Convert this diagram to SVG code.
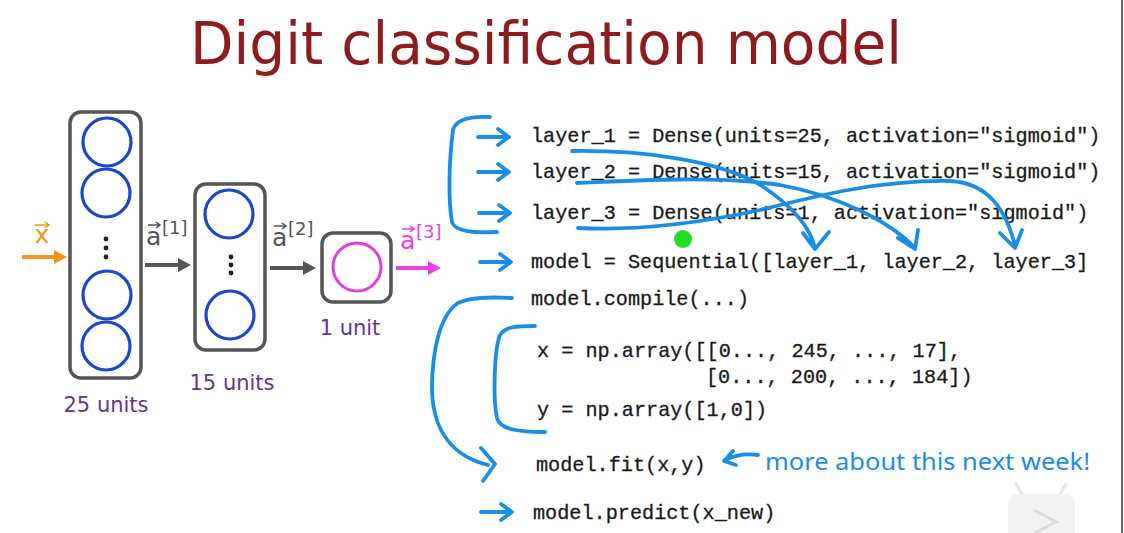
<svg xmlns="http://www.w3.org/2000/svg" width="1124" height="533" viewBox="0 0 1124 533">
<style>
.box{fill:#fff;stroke:#555;stroke-width:3.5}
.neu{fill:none;stroke:#1a48c8;stroke-width:3.2}
.dot{fill:#222}
.lbl{font-family:"DejaVu Sans",Verdana,sans-serif;font-size:21px;fill:#6b3291}
.code{font-family:"Liberation Mono","DejaVu Sans Mono",monospace;font-size:20.2px;fill:#1a1a1a;stroke:#1a1a1a;stroke-width:0.3}
.hand{fill:none;stroke:#1a8ee6;stroke-width:3.8;stroke-linecap:round;stroke-linejoin:round}
.vec{font-family:"DejaVu Sans",Verdana,sans-serif}
</style>
<rect width="1124" height="533" fill="#fff"/>
<line x1="1122" y1="0" x2="1122" y2="533" stroke="#666" stroke-width="2"/>
<text x="190" y="64" font-family="DejaVu Sans,Verdana,sans-serif" font-size="58" fill="#8e1b1e" textLength="712" lengthAdjust="spacingAndGlyphs">Digit classification model</text>

<g id="layer1-node">
<rect class="box" x="70" y="112" width="71" height="266" rx="11"/>
<circle class="neu" cx="107" cy="142" r="24"/>
<circle class="neu" cx="106" cy="193" r="24"/>
<circle class="dot" cx="106" cy="239" r="2.4"/><circle class="dot" cx="106" cy="248" r="2.4"/><circle class="dot" cx="106" cy="257" r="2.4"/>
<circle class="neu" cx="107" cy="295" r="24"/>
<circle class="neu" cx="106" cy="346" r="24"/>
<text class="lbl" x="106" y="412" text-anchor="middle">25 units</text>
</g>
<g id="layer2-node">
<rect class="box" x="195" y="184" width="70" height="166" rx="11"/>
<circle class="neu" cx="229" cy="214" r="24"/>
<circle class="dot" cx="231" cy="257" r="2.4"/><circle class="dot" cx="231" cy="265" r="2.4"/><circle class="dot" cx="231" cy="273" r="2.4"/>
<circle class="neu" cx="230" cy="315" r="24"/>
<text class="lbl" x="232" y="390" text-anchor="middle">15 units</text>
</g>
<g id="layer3-node">
<rect class="box" x="322" y="233" width="69" height="69" rx="11"/>
<circle cx="357" cy="267" r="24" fill="none" stroke="#e23ee0" stroke-width="3"/>
<text class="lbl" x="350" y="335" text-anchor="middle">1 unit</text>
</g>

<g id="connectors">
<g fill="#f7941d" stroke="#f7941d">
<line x1="22" y1="257" x2="56" y2="257" stroke-width="4"/>
<path d="M54,250 L67,257 L54,264Z" stroke="none"/>
<text class="vec" x="42" y="243" font-size="25" text-anchor="middle" stroke="none">x</text>
<path d="M35,225 H49 M45,222 L49,225 L45,228" fill="none" stroke-width="1.5"/>
</g>
<g fill="#555" stroke="#555">
<line x1="145" y1="265" x2="180" y2="265" stroke-width="4"/>
<path d="M178,258 L191,265 L178,272Z" stroke="none"/>
<text class="vec" x="146" y="245" font-size="25" stroke="none">a</text>
<path d="M148,225 H160 M156,222 L160,225 L156,228" fill="none" stroke-width="1.5"/>
<text class="vec" x="162" y="234" font-size="18" stroke="none">[1]</text>
<line x1="270" y1="268" x2="305" y2="268" stroke-width="4"/>
<path d="M303,261 L316,268 L303,275Z" stroke="none"/>
<text class="vec" x="272" y="246" font-size="25" stroke="none">a</text>
<path d="M274,226 H286 M282,223 L286,226 L282,229" fill="none" stroke-width="1.5"/>
<text class="vec" x="288" y="235" font-size="18" stroke="none">[2]</text>
</g>
<g fill="#ee3fe8" stroke="#ee3fe8">
<line x1="396" y1="268" x2="430" y2="268" stroke-width="4"/>
<path d="M428,261 L441,268 L428,275Z" stroke="none"/>
<text class="vec" x="400" y="249" font-size="25" stroke="none">a</text>
<path d="M402,229 H414 M410,226 L414,229 L410,232" fill="none" stroke-width="1.5"/>
<text class="vec" x="416" y="238" font-size="18" stroke="none">[3]</text>
</g>
</g>

<g id="code">
<text class="code" x="531" y="142">layer_1 = Dense(units=25, activation="sigmoid")</text>
<text class="code" x="531" y="178">layer_2 = Dense(units=15, activation="sigmoid")</text>
<text class="code" x="531" y="219">layer_3 = Dense(units=1, activation="sigmoid")</text>
<text class="code" x="531" y="268">model = Sequential([layer_1, layer_2, layer_3]</text>
<text class="code" x="531" y="305">model.compile(...)</text>
<text class="code" x="537" y="357">x = np.array([[0..., 245, ..., 17],</text>
<text class="code" x="706" y="383">[0..., 200, ..., 184])</text>
<text class="code" x="537" y="416">y = np.array([1,0])</text>
<text class="code" x="536" y="471">model.fit(x,y)</text>
<text class="code" x="533" y="519">model.predict(x_new)</text>
</g>

<g id="annotations">
<path class="hand" d="M478,137 H508 M498,129 L509,137 L498,145"/>
<path class="hand" d="M478,172 H508 M498,164 L509,172 L498,180"/>
<path class="hand" d="M479,213 H509 M499,205 L510,213 L499,221"/>
<path class="hand" d="M480,262 H510 M500,254 L511,262 L500,270"/>
<path class="hand" d="M481,512 H511 M501,504 L512,512 L501,520"/>
<path class="hand" d="M490,117 C470,116 456,119 453,130 C449,160 448,200 452,222 C455,232 475,233 497,232"/>
<path class="hand" d="M512,298 C490,297 470,297 458,303 C440,315 432,350 432,390 C433,430 452,456 488,465 M481,448 L495,464 L483,481"/>
<path class="hand" d="M535,326 C515,326 505,327 500,335 C494,350 493,400 497,418 C500,430 520,432 545,432"/>
<path class="hand" d="M572,151 C640,150 720,160 762,186 C792,206 810,226 815,248 M803,233 L815,249 L829,232"/>
<path class="hand" d="M577,183 C640,180 720,176 780,185 C840,196 890,222 914,247 M898,238 L915,249 L918,230"/>
<path class="hand" d="M578,228 C640,231 700,223 760,210 C820,195 880,180 950,181 C990,183 1006,212 1015,245 M1000,233 L1015,248 L1022,230"/>
<path class="hand" d="M758,455 C745,453 735,455 725,460 M733,451 L724,461 L736,465" stroke-width="2.5"/>
<text x="765" y="470" font-family="Noto Sans,DejaVu Sans,sans-serif" font-size="24" fill="#1a8ee6" textLength="325" lengthAdjust="spacingAndGlyphs">more about this next week!</text>
<circle cx="683" cy="239" r="9" fill="#22dd22"/>
</g>

<g id="watermark" opacity="0.5">
<path d="M1022,494 L1016,484 M1060,494 L1066,484" stroke="#ccc" stroke-width="3" stroke-linecap="round"/>
<rect x="1008" y="494" width="67" height="50" rx="10" fill="#e6e6e6"/>
<path d="M1034,510 L1056,522 L1034,533" fill="none" stroke="#bbb" stroke-width="3"/>
</g>
</svg>
